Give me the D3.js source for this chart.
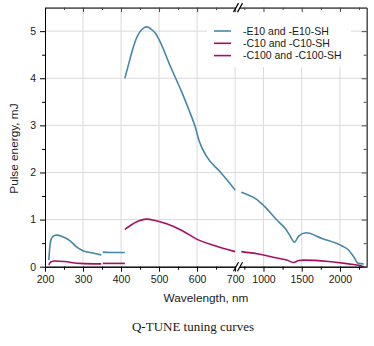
<!DOCTYPE html>
<html>
<head>
<meta charset="utf-8">
<script src="https://cdn.jsdelivr.net/npm/d3@7"></script>
<style>
    body { margin: 0; background: #fff; }
    #chart { width: 374px; height: 346px; }
    .tick text { font-family: "Liberation Sans", Arial, sans-serif; font-size: 10.5px; fill: #1a1a1a; }
</style>
</head>
<body>
<div id="chart"></div>
<script>

// axis ticks (the x axis is broken between 700 and 1000 nm)
const yTicks = [0, 1, 2, 3, 4, 5];
const yMinor = [0.5, 1.5, 2.5, 3.5, 4.5];
const xTicksLeft = [200, 300, 400, 500, 600, 700];
const xMinorLeft = [250, 350, 450, 550, 650];
const xTicksRight = [1000, 1500, 2000];
const xMinorRight = [750, 1250, 1750, 2250];

// legend
const seriesNames = ["-E10 and -E10-SH", "-C10 and -C10-SH", "-C100 and -C100-SH"];
const seriesColors = ["#4587a8", "#a80f62", "#a80f62"];

// -E10 tuning ranges, [wavelength nm, energy mJ]
const e10Range1 = [[210, 0.14], [213, 0.45], [217, 0.6], [225, 0.66], [232, 0.67], [245, 0.64], [266, 0.55], [283, 0.42], [300, 0.34], [325, 0.29], [348, 0.25]];
const e10Range2 = [[352, 0.31], [380, 0.30], [410, 0.30]];
const e10Range3 = [[410, 4.0], [420, 4.3], [430, 4.6], [440, 4.84], [450, 4.99], [460, 5.07], [468, 5.09], [478, 5.05], [490, 4.96], [500, 4.82], [530, 4.25], [560, 3.7], [580, 3.3], [595, 2.97], [605, 2.68], [625, 2.34], [660, 2.02], [700, 1.63]];
const e10Range4 = [[710, 1.58], [800, 1.52], [890, 1.45], [1020, 1.27], [1175, 0.99], [1285, 0.81], [1350, 0.65], [1405, 0.52], [1460, 0.65], [1555, 0.72], [1765, 0.6], [2030, 0.44], [2115, 0.35], [2180, 0.21], [2240, 0.07], [2310, 0.06]];

// -C10 tuning ranges
const c10Range1 = [[210, 0.04], [215, 0.1], [225, 0.12], [250, 0.11], [292, 0.07], [348, 0.06]];
const c10Range2 = [[352, 0.07], [410, 0.07]];
const c10Range3 = [[410, 0.79], [440, 0.95], [467, 1.01], [490, 0.98], [520, 0.91], [560, 0.77], [600, 0.58], [645, 0.45], [700, 0.32]];
const c10Range4 = [[710, 0.32], [935, 0.27], [1130, 0.2], [1305, 0.14], [1395, 0.09], [1460, 0.13], [1525, 0.14], [1855, 0.11], [2115, 0.06], [2240, 0.03], [2310, 0.0]];

const curves = [
    {color: seriesColors[0], left: [e10Range1, e10Range2, e10Range3], right: [e10Range4]},
    {color: seriesColors[1], left: [c10Range1, c10Range2, c10Range3], right: [c10Range4]}
];

class TuningChart {

    constructor(parentElement) {
        this.parentElement = parentElement;
        this.initVis();
    }

    initVis() {
        let vis = this;

        vis.margin = {top: 7.6, right: 7.3, bottom: 79.3, left: 45};
        vis.width = 374 - vis.margin.left - vis.margin.right;
        vis.height = 346 - vis.margin.top - vis.margin.bottom;

        vis.root = d3.select(`#${vis.parentElement}`).append("svg")
            .attr("width", 374)
            .attr("height", 346);
        vis.svg = vis.root.append("g")
            .attr("transform", `translate(${vis.margin.left}, ${vis.margin.top})`);

        // two linear pieces for the broken wavelength axis
        vis.breakX = 193;
        vis.xLeft = d3.scaleLinear().domain([200, 705]).range([0, vis.breakX - 1]);
        vis.xRight = d3.scaleLinear().domain([680, 2350]).range([vis.breakX + 1, vis.width]);
        vis.y = d3.scaleLinear().domain([0, 5.5]).range([vis.height, 0]);

        vis.updateVis();
    }

    updateVis() {
        let vis = this;
        const grid = "#dadada";

        // gridlines
        let gridGroup = vis.svg.append("g");
        gridGroup.selectAll(".hgrid").data(yTicks.slice(1)).enter().append("line")
            .attr("x1", 0).attr("x2", vis.width)
            .attr("y1", d => vis.y(d)).attr("y2", d => vis.y(d))
            .attr("stroke", grid);
        gridGroup.selectAll(".vgl").data(xTicksLeft.slice(1)).enter().append("line")
            .attr("x1", d => vis.xLeft(d)).attr("x2", d => vis.xLeft(d))
            .attr("y1", 0).attr("y2", vis.height)
            .attr("stroke", grid);
        gridGroup.selectAll(".vgr").data(xTicksRight).enter().append("line")
            .attr("x1", d => vis.xRight(d)).attr("x2", d => vis.xRight(d))
            .attr("y1", 0).attr("y2", vis.height)
            .attr("stroke", grid);

        // legend box hides the grid underneath it
        let legend = vis.svg.append("g");
        legend.append("rect")
            .attr("x", 162).attr("y", 1.5)
            .attr("width", 144).attr("height", 58)
            .attr("fill", "#fff");

        // curves, one path per tuning range
        let line = scale => d3.line()
            .x(d => scale(d[0]))
            .y(d => vis.y(d[1]))
            .curve(d3.curveMonotoneX);

        curves.forEach(c => {
            c.left.forEach(seg => {
                vis.svg.append("path").datum(seg)
                    .attr("d", line(vis.xLeft))
                    .attr("fill", "none").attr("stroke", c.color)
                    .attr("stroke-width", 1.6);
            });
            c.right.forEach(seg => {
                vis.svg.append("path").datum(seg)
                    .attr("d", line(vis.xRight))
                    .attr("fill", "none").attr("stroke", c.color)
                    .attr("stroke-width", 1.6);
            });
        });

        // legend entries
        seriesNames.forEach((name, i) => {
            let yy = 23.4 + i * 12.3;
            legend.append("line")
                .attr("x1", 169).attr("x2", 186)
                .attr("y1", yy).attr("y2", yy)
                .attr("stroke", seriesColors[i]).attr("stroke-width", 1.6);
            legend.append("text")
                .attr("x", 198).attr("y", yy + 3.8)
                .attr("font-family", "Liberation Sans, Arial, sans-serif")
                .attr("font-size", 10.5)
                .attr("fill", "#1a1a1a")
                .text(name);
        });

        // axes
        let styleAxis = (g, color) => {
            g.select(".domain").attr("stroke", color);
            g.selectAll(".tick line").attr("stroke", color);
        };

        let bottom = vis.svg.append("g").attr("transform", `translate(0, ${vis.height})`);
        [[vis.xLeft, xTicksLeft, xMinorLeft], [vis.xRight, xTicksRight, xMinorRight]].forEach(([sc, major, minor]) => {
            bottom.append("g")
                .call(d3.axisBottom(sc).tickValues(minor).tickSize(3).tickSizeOuter(0).tickFormat(""))
                .call(g => styleAxis(g, "#000"));
            bottom.append("g")
                .call(d3.axisBottom(sc).tickValues(major).tickSize(5).tickSizeOuter(0).tickPadding(4).tickFormat(d3.format("d")))
                .call(g => styleAxis(g, "#000"));
        });

        let top = vis.svg.append("g");
        [[vis.xLeft, xTicksLeft, xMinorLeft], [vis.xRight, xTicksRight, xMinorRight]].forEach(([sc, major, minor]) => {
            top.append("g")
                .call(d3.axisTop(sc).tickValues(minor).tickSize(-2.5).tickSizeOuter(0).tickFormat(""))
                .call(g => styleAxis(g, "#444"));
            top.append("g")
                .call(d3.axisTop(sc).tickValues(major).tickSize(-4.5).tickSizeOuter(0).tickFormat(""))
                .call(g => styleAxis(g, "#444"));
        });

        vis.svg.append("g")
            .call(d3.axisLeft(vis.y).tickValues(yMinor).tickSize(3).tickSizeOuter(0).tickFormat(""))
            .call(g => styleAxis(g, "#000"));
        vis.svg.append("g")
            .call(d3.axisLeft(vis.y).tickValues(yTicks).tickSize(5).tickSizeOuter(0).tickPadding(4).tickFormat(d3.format("d")))
            .call(g => styleAxis(g, "#000"));

        let right = vis.svg.append("g").attr("transform", `translate(${vis.width}, 0)`);
        right.append("g")
            .call(d3.axisRight(vis.y).tickValues(yMinor).tickSize(-3).tickSizeOuter(0).tickFormat(""))
            .call(g => styleAxis(g, "#444"));
        right.append("g")
            .call(d3.axisRight(vis.y).tickValues(yTicks).tickSize(-5).tickSizeOuter(0).tickFormat(""))
            .call(g => styleAxis(g, "#444"));

        // "//" break marks on the top and bottom axes
        [0, vis.height].forEach(yy => {
            let b = vis.svg.append("g").attr("transform", `translate(${vis.breakX}, ${yy})`);
            b.append("rect").attr("x", -2).attr("y", -1.5).attr("width", 4).attr("height", 3).attr("fill", "#fff");
            [-2, 2].forEach(dx => {
                b.append("line")
                    .attr("x1", dx - 2.5).attr("y1", 4.5)
                    .attr("x2", dx + 2.5).attr("y2", -4.5)
                    .attr("stroke", "#000").attr("stroke-width", 1.2);
            });
        });

        // axis titles
        vis.svg.append("text")
            .attr("x", 161).attr("y", vis.height + 35)
            .attr("text-anchor", "middle")
            .attr("font-family", "Liberation Sans, Arial, sans-serif")
            .attr("font-size", 11.8)
            .attr("fill", "#1a1a1a")
            .text("Wavelength, nm");

        vis.svg.append("text")
            .attr("transform", `translate(-27, 141) rotate(-90)`)
            .attr("text-anchor", "middle")
            .attr("font-family", "Liberation Sans, Arial, sans-serif")
            .attr("font-size", 11.8)
            .attr("fill", "#1a1a1a")
            .text("Pulse energy, mJ");

        // caption under the chart
        vis.root.append("text")
            .attr("x", 193).attr("y", 331)
            .attr("text-anchor", "middle")
            .attr("font-family", "Liberation Serif, Times New Roman, serif")
            .attr("font-size", 13)
            .attr("fill", "#1a1a1a")
            .text("Q-TUNE tuning curves");
    }
}

new TuningChart("chart");
</script>
</body>
</html>
